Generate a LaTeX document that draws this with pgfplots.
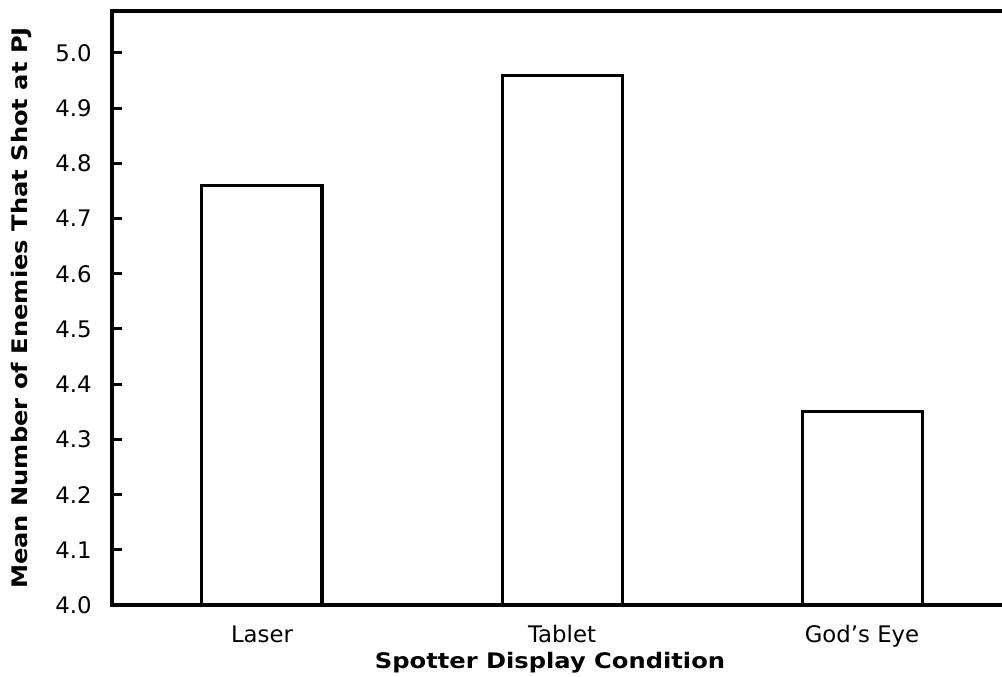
\documentclass[border=0pt]{standalone}
\usepackage{fontspec}
\setmainfont{DejaVu Sans}
\newfontfamily\lblfont{DejaVu Sans}[FakeStretch=1.13]
\usepackage{pgfplots}
\pgfplotsset{compat=1.18}
\begin{document}
\begin{tikzpicture}
\fontsize{11.5pt}{13pt}\selectfont
\begin{axis}[
  scale only axis,
  width=447pt, height=297pt,
  xmin=-0.5, xmax=2.48,
  ymin=4, ymax=5.076,
  axis line style={line width=2pt},
  xtick={0,1,2},
  xticklabels={Laser,Tablet,God's Eye},
  xtick style={draw=none},
  ytick={4.0,4.1,4.2,4.3,4.4,4.5,4.6,4.7,4.8,4.9,5.0},
  ytick pos=left,
  tick align=inside,
  major tick length=4pt,
  ytick style={draw=none},
  /pgf/number format/assume math mode=true,
  yticklabel={\pgfmathprintnumber[fixed,fixed zerofill,precision=1]{\tick}},
  tick label style={font=\fontsize{11.4pt}{13pt}\selectfont},
  yticklabel style={anchor=east, xshift=-6.2pt},
  xticklabel style={anchor=base, yshift=-19pt},
  every axis y label/.style={at={(axis description cs:-0.1007,0.5)}, rotate=90, anchor=center},
  every axis x label/.style={at={(axis description cs:0.5,0)}, anchor=base, yshift=-32pt, xshift=-4.5pt},
  ylabel={Mean Number of Enemies That Shot at PJ},
  xlabel={Spotter Display Condition},
  label style={font=\lblfont\fontsize{10.7pt}{12pt}\selectfont\bfseries},
  clip=false,
  unbounded coords=jump,
]
\addplot[ybar, bar width=0.4, fill=white, draw=black, line width=1.5pt] coordinates {(0,4.76) (1,4.96) (2,4.35)};
% inward tick marks on the left axis
\addplot[black, line width=1.5pt, forget plot, mark=none] table {
x y
-0.5 4.1
-0.4667 4.1
nan nan
-0.5 4.2
-0.4667 4.2
nan nan
-0.5 4.3
-0.4667 4.3
nan nan
-0.5 4.4
-0.4667 4.4
nan nan
-0.5 4.5
-0.4667 4.5
nan nan
-0.5 4.6
-0.4667 4.6
nan nan
-0.5 4.7
-0.4667 4.7
nan nan
-0.5 4.8
-0.4667 4.8
nan nan
-0.5 4.9
-0.4667 4.9
nan nan
-0.5 5.0
-0.4667 5.0
};
\end{axis}
\pgfresetboundingbox
\path[use as bounding box] ([xshift=-56pt,yshift=-36pt]current axis.south west) rectangle ([yshift=5.5pt,xshift=-2pt]current axis.north east);
\end{tikzpicture}
\end{document}
